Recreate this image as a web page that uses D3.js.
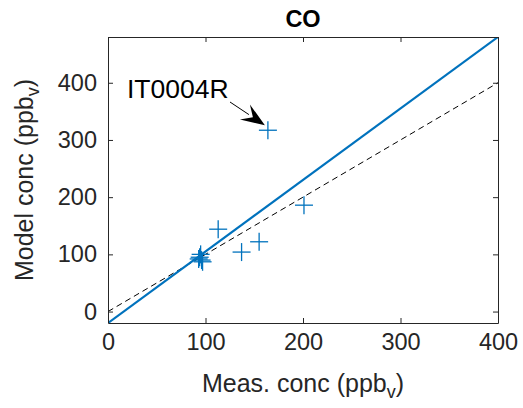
<!DOCTYPE html>
<html>
<head>
<meta charset="utf-8">
<script src="https://cdn.jsdelivr.net/npm/d3@7"></script>
<style>
  body { margin: 0; background: #fff; }
  text { font-family: "Liberation Sans", Arial, sans-serif; fill: #262626; }
</style>
</head>
<body>
<svg id="chart"></svg>
<script>
const WIDTH = 523;
const HEIGHT = 408;

// measured vs modelled CO (ppbv)
const MEAS = [164, 113, 137, 155, 201, 94, 96, 95, 97, 93];
const MODEL = [317, 144, 104, 122, 186, 95, 90, 100, 87, 92];
const LABELLED = "IT0004R";

// regression line and 1:1 line
const FIT_X = [0, 400];
const FIT_Y = [-20, 480];
const ONE_X = [0, 400];
const ONE_Y = [0, 400];

const X_TICKS = [0, 100, 200, 300, 400];
const Y_TICKS = [0, 100, 200, 300, 400];

const margin = {left: 108, right: 25, top: 37, bottom: 85};
const BLUE = "#0072BD";
const AXIS = "#262626";

const svg = d3.select('#chart')
              .attr('width', WIDTH)
              .attr('height', HEIGHT);

const x = d3.scaleLinear().domain([0, 400]).range([margin.left, WIDTH - margin.right]);
const y = d3.scaleLinear().domain([-20, 480]).range([HEIGHT - margin.bottom, margin.top]);

const defs = svg.append('defs');
defs.append('clipPath').attr('id', 'clip')
    .append('rect')
    .attr('x', margin.left).attr('y', margin.top)
    .attr('width', x.range()[1] - margin.left)
    .attr('height', y.range()[0] - margin.top);

const plot = svg.append('g').attr('clip-path', 'url(#clip)');

const line = d3.line().x(d => x(d[0])).y(d => y(d[1]));

plot.append('path')
    .attr('d', line(ONE_X.map((v, i) => [v, ONE_Y[i]])))
    .attr('fill', 'none')
    .attr('stroke', '#000')
    .attr('stroke-width', 1)
    .attr('stroke-dasharray', '6,4');

plot.append('path')
    .attr('d', line(FIT_X.map((v, i) => [v, FIT_Y[i]])))
    .attr('fill', 'none')
    .attr('stroke', BLUE)
    .attr('stroke-width', 2.2);

// plus markers
const half = 9;
const marks = plot.selectAll('g.pt').data(MEAS.map((m, i) => [m, MODEL[i]]))
    .enter().append('g').attr('class', 'pt')
    .attr('transform', d => `translate(${x(d[0])},${y(d[1])})`);
marks.append('line').attr('x1', -half).attr('x2', half).attr('y1', 0).attr('y2', 0);
marks.append('line').attr('y1', -half).attr('y2', half).attr('x1', 0).attr('x2', 0);
marks.selectAll('line').attr('stroke', BLUE).attr('stroke-width', 1.3);

// axes (box with inward ticks)
const xAxis = svg.append('g')
    .attr('transform', `translate(0,${y.range()[0]})`)
    .call(d3.axisBottom(x).tickValues(X_TICKS).tickSizeInner(-5).tickSizeOuter(0).tickPadding(10));
const xTop = svg.append('g')
    .attr('transform', `translate(0,${margin.top})`)
    .call(d3.axisTop(x).tickValues(X_TICKS).tickSizeInner(-5).tickSizeOuter(0).tickFormat(''));
const yAxis = svg.append('g')
    .attr('transform', `translate(${margin.left},0)`)
    .call(d3.axisLeft(y).tickValues(Y_TICKS).tickSizeInner(-5).tickSizeOuter(0).tickPadding(11));
const yRight = svg.append('g')
    .attr('transform', `translate(${x.range()[1]},0)`)
    .call(d3.axisRight(y).tickValues(Y_TICKS).tickSizeInner(-5).tickSizeOuter(0).tickFormat(''));

[xAxis, xTop, yAxis, yRight].forEach(g => {
  g.select('.domain').attr('stroke', AXIS).attr('stroke-width', 1);
  g.selectAll('.tick line').attr('stroke', AXIS);
  g.selectAll('.tick text').attr('font-size', 23.5).attr('fill', AXIS)
   .style('font-family', '"Liberation Sans", Arial, sans-serif');
});
xAxis.selectAll('.tick text').attr('dy', '0.71em');

// title
svg.append('text')
   .attr('x', (x.range()[0] + x.range()[1]) / 2)
   .attr('y', 27)
   .attr('text-anchor', 'middle')
   .attr('font-size', 23.5)
   .attr('font-weight', 'bold')
   .style('fill', '#000')
   .text('CO');

// axis labels with subscript v
const xl = svg.append('text')
   .attr('x', (x.range()[0] + x.range()[1]) / 2)
   .attr('y', 392)
   .attr('text-anchor', 'middle')
   .attr('font-size', 25);
xl.append('tspan').text('Meas. conc (ppb');
xl.append('tspan').attr('font-size', 18).attr('dy', 6).text('v');
xl.append('tspan').attr('dy', -6).text(')');

const yl = svg.append('text')
   .attr('transform', `translate(33,${(y.range()[0] + y.range()[1]) / 2}) rotate(-90)`)
   .attr('text-anchor', 'middle')
   .attr('font-size', 25);
yl.append('tspan').text('Model conc (ppb');
yl.append('tspan').attr('font-size', 18).attr('dy', 6).text('v');
yl.append('tspan').attr('dy', -6).text(')');

// annotation with arrow to the outlier
const iLab = MODEL.indexOf(d3.max(MODEL));
const px = x(MEAS[iLab]), py = y(MODEL[iLab]);
svg.append('text')
   .attr('x', 127)
   .attr('y', 98)
   .attr('font-size', 26.5)
   .style('fill', '#000')
   .text(LABELLED);

const sx = 230, sy = 102;
const tx = px - 3, ty = py - 5;
const ang = Math.atan2(ty - sy, tx - sx);
const hl = 24, hw = 9;
svg.append('line')
   .attr('x1', sx).attr('y1', sy)
   .attr('x2', tx - hl * 0.8 * Math.cos(ang)).attr('y2', ty - hl * 0.8 * Math.sin(ang))
   .attr('stroke', '#000').attr('stroke-width', 1);
const bx = tx - hl * Math.cos(ang), by = ty - hl * Math.sin(ang);
const nx = -Math.sin(ang), ny = Math.cos(ang);
const mx = tx - hl * 0.6 * Math.cos(ang), my = ty - hl * 0.6 * Math.sin(ang);
svg.append('path')
   .attr('d', `M${tx},${ty} L${bx + nx * hw},${by + ny * hw} L${mx},${my} L${bx - nx * hw},${by - ny * hw} Z`)
   .attr('fill', '#000');
</script>
</body>
</html>
